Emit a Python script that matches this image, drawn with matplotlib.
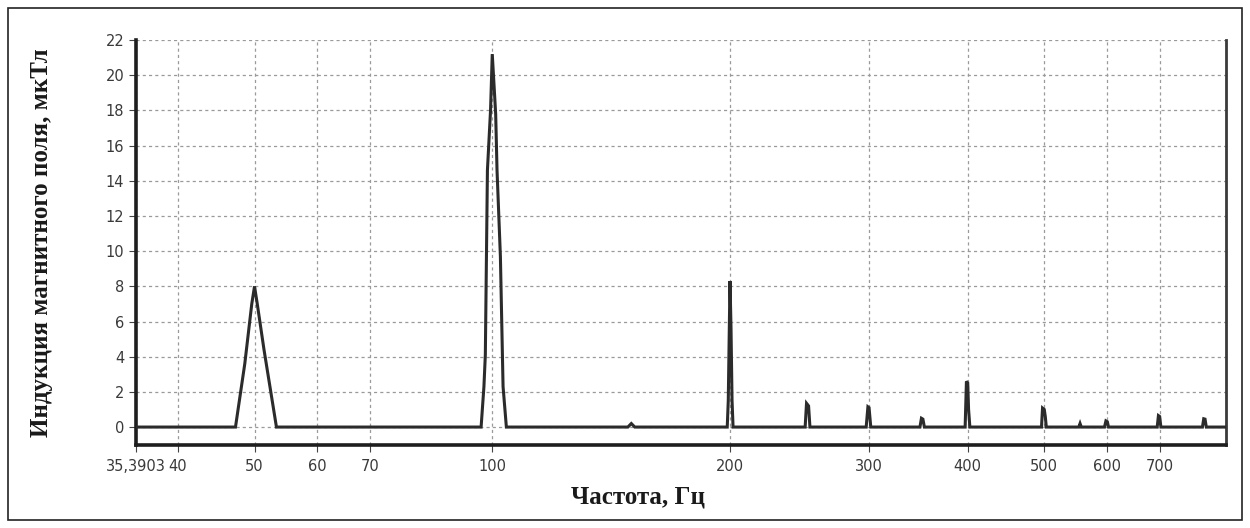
import matplotlib.pyplot as plt
from matplotlib.patches import Rectangle
from matplotlib.ticker import FixedLocator, FixedFormatter, NullLocator

# spectrum (Hz, мкТл)
freq = [35.3903, 47.3, 48.6, 49.6, 50.0, 50.4, 51.4, 53.3,
        96.8, 97.6, 98.0, 98.6, 99.5, 100.0, 101.0, 101.4, 102.4, 103.2, 104.2,
        148.5, 150.0, 151.5,
        198.4, 199.0, 199.6, 200.0, 200.6, 201.2, 201.8,
        249.0, 250.0, 251.5, 252.5,
        297.5, 299.0, 300.0, 301.5,
        348.0, 349.5, 351.0, 352.5,
        397.0, 398.5, 400.0, 401.0, 402.5,
        496.0, 497.5, 500.0, 501.5, 503.0,
        553.0, 555.0, 557.0,
        596.0, 598.5, 601.0, 603.0,
        695.0, 697.5, 700.0, 702.5,
        793.0, 796.0, 799.0, 802.0,
        850.0]
amp = [0.0, 0.0, 3.6, 7.0, 8.0, 7.0, 4.4, 0.0,
       0.0, 2.3, 4.1, 14.6, 18.0, 21.2, 17.8, 14.6, 9.7, 2.3, 0.0,
       0.0, 0.2, 0.0,
       0.0, 1.5, 5.6, 8.3, 5.6, 1.5, 0.0,
       0.0, 1.35, 1.2, 0.0,
       0.0, 1.15, 1.1, 0.0,
       0.0, 0.5, 0.45, 0.0,
       0.0, 2.6, 2.5, 1.0, 0.0,
       0.0, 1.08, 1.0, 0.6, 0.0,
       0.0, 0.2, 0.0,
       0.0, 0.35, 0.3, 0.0,
       0.0, 0.65, 0.6, 0.0,
       0.0, 0.47, 0.45, 0.0,
       0.0]

x_ticks = [35.3903, 40, 50, 60, 70, 100, 200, 300, 400, 500, 600, 700]
x_tick_labels = ['35,3903', '40', '50', '60', '70', '100', '200', '300', '400', '500', '600', '700']
y_ticks = list(range(0, 23, 2))

fig = plt.figure(figsize=(12.5, 5.28), dpi=100)
ax = fig.add_axes([0.1088, 0.1572, 0.981 - 0.1088, 0.9242 - 0.1572])

ax.plot(freq, amp, color='#2b2b2b', linewidth=2.2, solid_joinstyle='miter', zorder=3)

ax.set_xscale('log')
ax.set_xlim(35.3903, 850)
ax.set_ylim(-1.02, 22)

ax.xaxis.set_major_locator(FixedLocator(x_ticks))
ax.xaxis.set_major_formatter(FixedFormatter(x_tick_labels))
ax.xaxis.set_minor_locator(NullLocator())
ax.set_yticks(y_ticks)

ax.grid(True, color='#9a9a9a', linestyle=(0, (2.5, 2.5)), linewidth=0.9)
ax.tick_params(axis='both', labelsize=10.5, colors='#444444', length=5, width=0.8)
ax.tick_params(axis='x', pad=5)

for lbl in ax.get_xticklabels() + ax.get_yticklabels():
    lbl.set_color('#3a3a3a')

ax.spines['top'].set_visible(False)
ax.spines['left'].set_linewidth(2.6)
ax.spines['bottom'].set_linewidth(2.6)
ax.spines['left'].set_color('#1e1e1e')
ax.spines['bottom'].set_color('#1e1e1e')
ax.spines['right'].set_linewidth(2.0)
ax.spines['right'].set_color('#3a3a3a')

ax.set_xlabel('Частота, Гц', fontsize=18, fontweight='bold', family='Liberation Serif',
              color='#1a1a1a')
ax.set_ylabel('Индукция магнитного поля, мкТл', fontsize=18, fontweight='bold',
              family='Liberation Serif', color='#1a1a1a')
ax.xaxis.set_label_coords(0.46, -0.10)
ax.yaxis.set_label_coords(-0.076, 0.50)

# outer frame around the picture
fig.patches.append(Rectangle((0.0065, 0.015), 0.987, 0.97, transform=fig.transFigure,
                             fill=False, edgecolor='#222222', linewidth=1.2))

fig.savefig('out.png', dpi=100)
